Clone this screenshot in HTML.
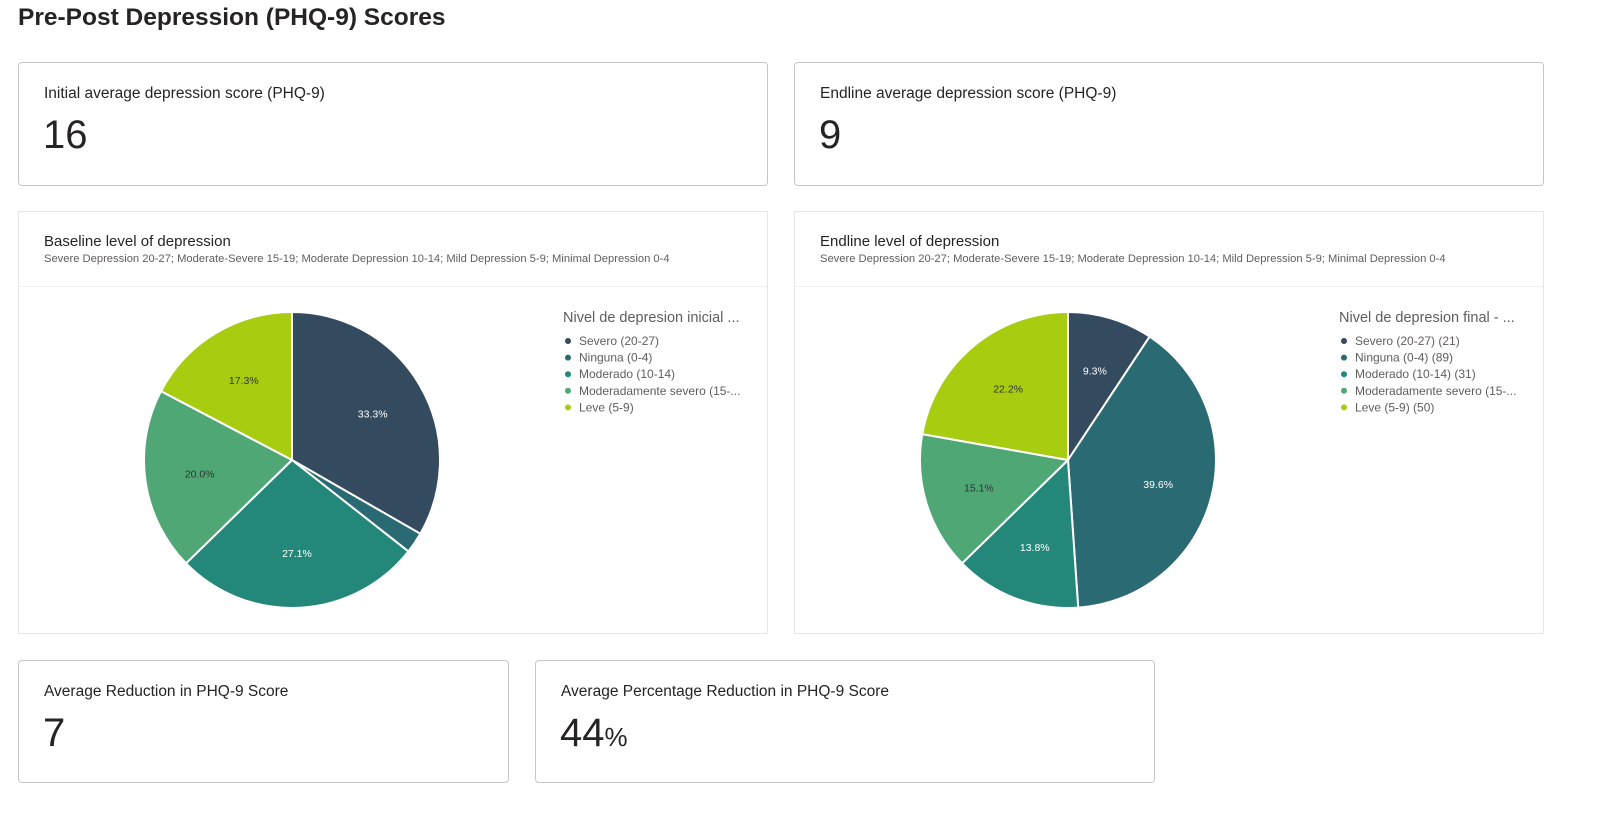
<!DOCTYPE html>
<html><head><meta charset="utf-8"><style>
body{margin:0;width:1600px;height:814px;background:#fff;font-family:"Liberation Sans","DejaVu Sans",sans-serif;color:#252423;position:relative;overflow:hidden}
.abs{position:absolute}
.card{position:absolute;border:1.5px solid #c8c6c4;border-radius:4px;box-sizing:border-box;background:#fff}
.card2{position:absolute;border:1px solid #e6e6e6;box-sizing:border-box;background:#fff}
.lbl{position:absolute;left:25px;top:22px;font-size:15.5px;color:#252423}
.val{position:absolute;left:24px;top:50px;font-size:40px;color:#252423}
.ct{position:absolute;left:25px;top:21px;font-size:15px}
.cs{position:absolute;left:25px;top:41px;font-size:11.2px;color:#605e5c}
.sep{position:absolute;left:0;right:0;top:74px;border-top:1px solid #f0f0f0}
</style></head><body>
<div class="abs" style="left:18px;top:4px;font-size:24.5px;font-weight:bold">Pre-Post Depression (PHQ-9) Scores</div>
<div class="card" style="left:18px;top:62px;width:750px;height:124px"><div class="lbl">Initial average depression score (PHQ-9)</div><div class="val">16</div></div>
<div class="card" style="left:794px;top:62px;width:750px;height:124px"><div class="lbl">Endline average depression score (PHQ-9)</div><div class="val">9</div></div>
<div class="card2" style="left:18px;top:211px;width:750px;height:423px"><div class="ct">Baseline level of depression</div><div class="cs">Severe Depression 20-27; Moderate-Severe 15-19; Moderate Depression 10-14; Mild Depression 5-9; Minimal Depression 0-4</div><div class="sep"></div></div>
<div class="card2" style="left:794px;top:211px;width:750px;height:423px"><div class="ct">Endline level of depression</div><div class="cs">Severe Depression 20-27; Moderate-Severe 15-19; Moderate Depression 10-14; Mild Depression 5-9; Minimal Depression 0-4</div><div class="sep"></div></div>
<div class="card" style="left:18px;top:660px;width:491px;height:123px"><div class="lbl">Average Reduction in PHQ-9 Score</div><div class="val">7</div></div>
<div class="card" style="left:535px;top:660px;width:620px;height:123px"><div class="lbl">Average Percentage Reduction in PHQ-9 Score</div><div class="val">44<span style="font-size:26px">%</span></div></div>
<svg class="abs" style="left:0;top:0" width="1600" height="814" id="svg"></svg>
<script>
const colors=["#344a5e","#2a6b73","#23887a","#4ea774","#a8cc10"];
const labelDark=[false,false,false,true,true];
const baselineCats=["Severo (20-27)","Ninguna (0-4)","Moderado (10-14)","Moderadamente severo (15-...","Leve (5-9)"];
const baselineVals=[33.3,2.3,27.1,20.0,17.3];
const endlineCats=["Severo (20-27) (21)","Ninguna (0-4) (89)","Moderado (10-14) (31)","Moderadamente severo (15-...","Leve (5-9) (50)"];
const endlineVals=[9.3,39.6,13.8,15.1,22.2];
const NS="http://www.w3.org/2000/svg";
const svg=document.getElementById('svg');
function mk(t,a){const e=document.createElementNS(NS,t);for(const k in a)e.setAttribute(k,a[k]);svg.appendChild(e);return e;}
function pie(name,cx,cy,r,vals,cats,lx,title){
  const tot=vals.reduce((a,b)=>a+b,0);let a0=-Math.PI/2;
  vals.forEach((v,i)=>{
    const a1=a0+v/tot*2*Math.PI;
    const x0=cx+r*Math.cos(a0),y0=cy+r*Math.sin(a0),x1=cx+r*Math.cos(a1),y1=cy+r*Math.sin(a1);
    const p=mk('path',{d:`M${cx},${cy}L${x0},${y0}A${r},${r} 0 ${a1-a0>Math.PI?1:0} 1 ${x1},${y1}Z`,fill:colors[i],stroke:'#fff','stroke-width':2});
    
    
    if(v>=5){const am=(a0+a1)/2;
      const t=mk('text',{x:cx+r*0.63*Math.cos(am),y:cy+r*0.63*Math.sin(am)+4,'text-anchor':'middle','font-size':10.5,fill:labelDark[i]?'#333':'#fff'});
      t.textContent=v.toFixed(1)+'%';
      
      }
    a0=a1;});
  const tt=mk('text',{x:lx,y:322,'font-size':14.5,fill:'#605e5c'});tt.textContent=title;
  
  
  cats.forEach((c,i)=>{const y=341+i*16.6;
    const d=mk('circle',{cx:lx+5,cy:y,r:3,fill:colors[i]});
    
    
    const t=mk('text',{x:lx+16,y:y+4,'font-size':12,fill:'#605e5c'});t.textContent=c;
    
    });
}
pie('baseline',292,460,148,baselineVals,baselineCats,563,'Nivel de depresion inicial ...');
pie('endline',1068,460,148,endlineVals,endlineCats,1339,'Nivel de depresion final - ...');
</script>
</body></html>
